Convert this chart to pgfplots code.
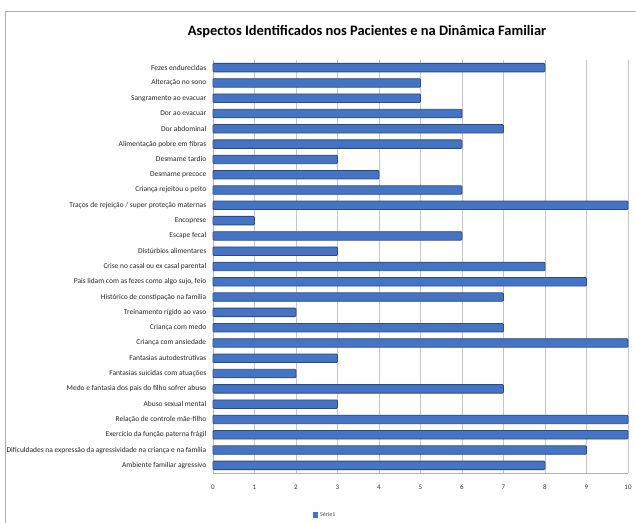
\documentclass[border=0pt]{standalone}
\usepackage{pgfplots}
\pgfplotsset{compat=1.18}
\usepackage{pgfplotstable}
\usepackage{fontspec}
\setmainfont{Carlito}[Numbers=Lining]
\definecolor{barfill}{HTML}{4674C4}
\definecolor{baredge}{HTML}{2A4A88}
\pgfplotstableread[col sep=comma]{
idx,val
0,8
1,5
2,5
3,6
4,7
5,6
6,3
7,4
8,6
9,10
10,1
11,6
12,3
13,8
14,9
15,7
16,2
17,7
18,10
19,3
20,2
21,7
22,3
23,10
24,10
25,9
26,8
}\datatable
\begin{document}
\begin{tikzpicture}[x=1bp,y=1bp]
\useasboundingbox (0,0) rectangle (636,523);
\draw[gray!60, line width=1bp] (5,511) -- (636,511);
\draw[gray!60, line width=1bp] (5,0) -- (5,511);
\node[font=\bfseries\fontsize{14.5}{16}\selectfont] at (367,491) {Aspectos Identificados nos Pacientes e na Dinâmica Familiar};
\begin{axis}[
  at={(213bp,50bp)}, anchor=south west,
  scale only axis, width=415bp, height=413bp,
  xbar, bar width=8.5bp,
  xmin=0, xmax=10,
  ymin=-0.5, ymax=26.5,
  y dir=reverse,
  ytick={0,...,26},
  yticklabels={Fezes endurecidas,Alteração no sono,Sangramento ao evacuar,Dor ao evacuar,Dor abdominal,Alimentação pobre em fibras,Desmame tardio,Desmame precoce,Criança rejeitou o peito,Traços de rejeição / super proteção maternas,Encoprese,Escape fecal,Distúrbios alimentares,Crise no casal ou ex casal parental,{Pais lidam com as fezes como algo sujo, feio},Histórico de constipação na família,Treinamento rígido ao vaso,Criança com medo,Criança com ansiedade,Fantasias autodestrutivas,Fantasias suicidas com atuações,Medo e fantasia dos pais do filho sofrer abuso,Abuso sexual mental,Relação de controle mãe-filho,Exercício da função paterna frágil,Dificuldades na expressão da agressividade na criança e na família,Ambiente familiar agressivo},
  yticklabel style={font=\fontsize{7.5}{8}\selectfont, text=black!85, xshift=1bp},
  xtick={0,...,10},
  xticklabels={0,1,2,3,4,5,6,7,8,9,10},
  xticklabel style={font=\fontsize{7}{8}\selectfont, text=black!80, anchor=north, text height=5bp, text depth=0bp, inner sep=0pt, yshift=-11bp},
  xmajorgrids, major grid style={gray!45, line width=0.8bp},
  axis line style={draw=none},
  tick style={draw=none},
  axis y line*=left,
  y axis line style={draw=gray!60},
  axis x line*=bottom,
  x axis line style={draw=gray!60},
  legend style={at={(0.27,-0.085)}, anchor=north, draw=none, font=\fontsize{6}{7}\selectfont, text=black!70},
  legend image code/.code={\fill[barfill, sharp corners] (0bp,-2.2bp) rectangle (4.5bp,2.2bp);},
  clip=false,
]
\addplot[fill=barfill, draw=baredge, line width=0.8bp, rounded corners=1bp] table[x=val, y=idx] {\datatable};
\addlegendentry{Série1}
\end{axis}
\end{tikzpicture}
\end{document}
